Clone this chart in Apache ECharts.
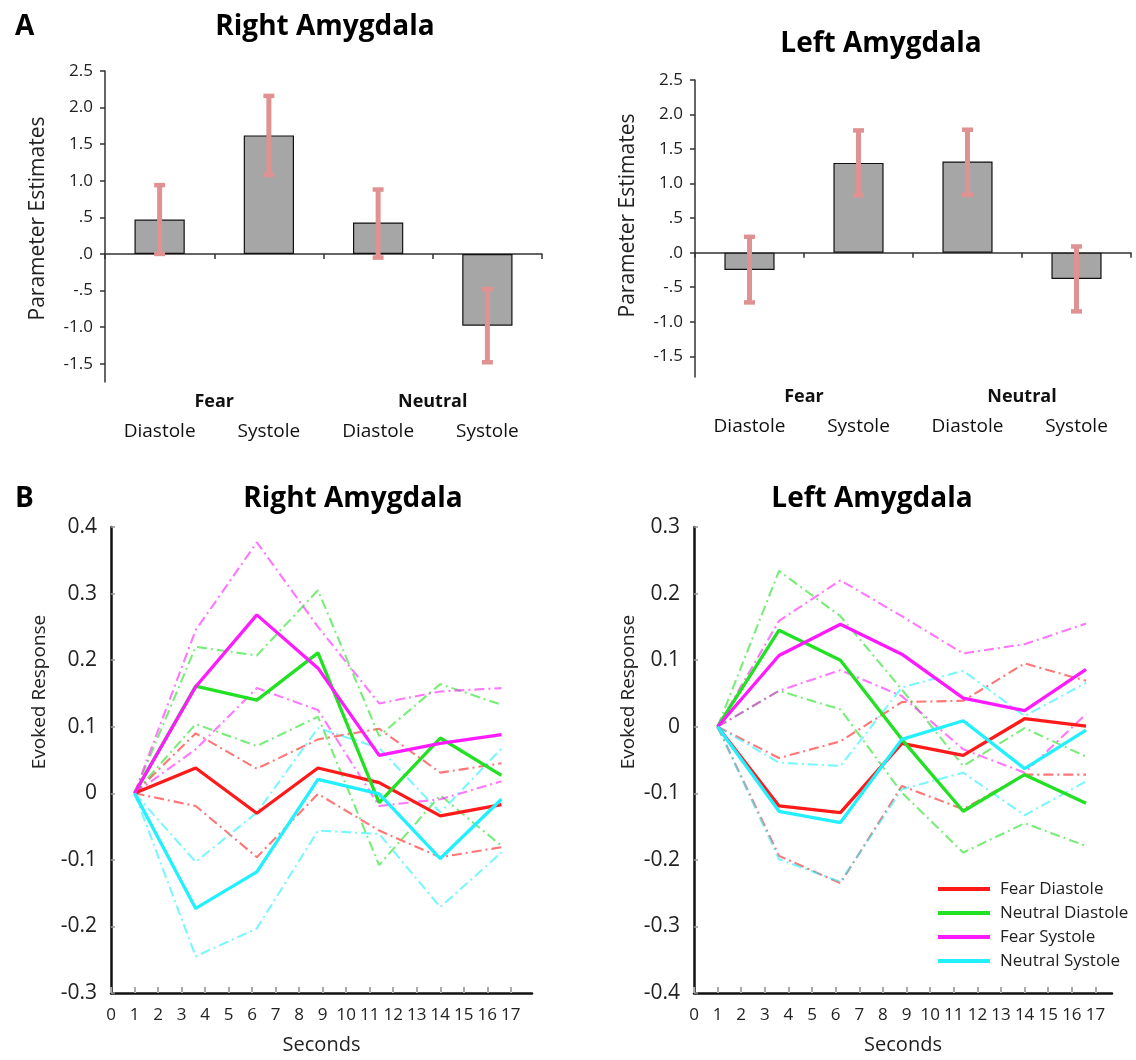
<!DOCTYPE html>
<html>
<head>
<meta charset="utf-8">
<script src="https://cdn.jsdelivr.net/npm/echarts@6/dist/echarts.min.js"></script>
<style>
html,body{margin:0;padding:0;background:#fff;}
#chart{width:1136px;height:1060px;}
</style>
</head>
<body>
<div id="chart"></div>
<script>
// ---------- Panel A data ----------
const phaseCats = ['Diastole', 'Systole', 'Diastole', 'Systole'];
const groupCats = ['Fear', 'Neutral'];
const rightAmyBars = [0.47, 1.62, 0.43, -0.98];
const rightAmyErrLow = [0.00, 1.08, -0.05, -1.48];
const rightAmyErrHigh = [0.94, 2.16, 0.88, -0.48];
const leftAmyBars = [-0.25, 1.30, 1.32, -0.38];
const leftAmyErrLow = [-0.72, 0.83, 0.84, -0.85];
const leftAmyErrHigh = [0.23, 1.77, 1.78, 0.09];

// ---------- Panel B data ----------
const seconds = [1, 3.6, 6.2, 8.8, 11.4, 14.0, 16.6];
const legendNames = ['Fear Diastole', 'Neutral Diastole', 'Fear Systole', 'Neutral Systole'];
// Right amygdala time courses
const rFearDia = [0, 0.038, -0.030, 0.038, 0.016, -0.034, -0.017];
const rFearDiaUp = [0, 0.090, 0.037, 0.081, 0.097, 0.031, 0.045];
const rFearDiaLo = [0, -0.019, -0.096, -0.001, -0.056, -0.096, -0.081];
const rNeuDia = [0, 0.161, 0.140, 0.211, -0.014, 0.083, 0.027];
const rNeuDiaUp = [0, 0.220, 0.207, 0.305, 0.086, 0.164, 0.133];
const rNeuDiaLo = [0, 0.104, 0.071, 0.115, -0.108, -0.003, -0.079];
const rFearSys = [0, 0.160, 0.268, 0.188, 0.057, 0.075, 0.088];
const rFearSysUp = [0, 0.245, 0.377, 0.250, 0.135, 0.153, 0.158];
const rFearSysLo = [0, 0.066, 0.158, 0.125, -0.019, -0.009, 0.018];
const rNeuSys = [0, -0.173, -0.118, 0.021, -0.001, -0.098, -0.009];
const rNeuSysUp = [0, -0.103, -0.029, 0.098, 0.068, -0.029, 0.067];
const rNeuSysLo = [0, -0.245, -0.203, -0.056, -0.061, -0.171, -0.089];
// Left amygdala time courses
const lFearDia = [0, -0.119, -0.129, -0.025, -0.043, 0.012, 0.001];
const lFearDiaUp = [0, -0.047, -0.022, 0.037, 0.039, 0.095, 0.069];
const lFearDiaLo = [0, -0.194, -0.235, -0.089, -0.124, -0.072, -0.072];
const lNeuDia = [0, 0.145, 0.100, -0.019, -0.127, -0.072, -0.115];
const lNeuDiaUp = [0, 0.234, 0.166, 0.056, -0.059, -0.002, -0.045];
const lNeuDiaLo = [0, 0.054, 0.026, -0.099, -0.189, -0.145, -0.179];
const lFearSys = [0, 0.107, 0.154, 0.109, 0.043, 0.024, 0.086];
const lFearSysUp = [0, 0.159, 0.220, 0.166, 0.110, 0.124, 0.155];
const lFearSysLo = [0, 0.054, 0.085, 0.046, -0.034, -0.069, 0.019];
const lNeuSys = [0, -0.127, -0.144, -0.019, 0.009, -0.063, -0.005];
const lNeuSysUp = [0, -0.054, -0.059, 0.059, 0.084, 0.016, 0.066];
const lNeuSysLo = [0, -0.199, -0.233, -0.094, -0.069, -0.133, -0.082];

const FONT = 'Open Sans';
const colors = {fearDia: '#ff1a1a', neuDia: '#22e022', fearSys: '#ff1aff', neuSys: '#22f0ff'};
const errColor = '#e09292';

function fmtA(v) {
  if (Math.abs(v * 2 - Math.round(v * 2)) > 1e-6) return '';
  let s = (Math.round(v * 10) / 10).toFixed(1);
  return s.replace(/^0\./, '.').replace(/^-0\./, '-.');
}
function fmtB(v) {
  const r = Math.round(v * 10) / 10;
  return r === 0 ? '0' : r.toFixed(1);
}

function barAxes(gridIndex) {
  return [
    { // main axis at zero
      type: 'category', gridIndex, data: phaseCats, position: 'bottom',
      axisLine: {onZero: true, lineStyle: {color: '#333', width: 1.5}},
      axisTick: {show: true, length: 5, lineStyle: {color: '#333', width: 1.5}},
      axisLabel: {show: false}
    },
    { // phase labels
      type: 'category', gridIndex, data: phaseCats, position: 'bottom',
      axisLine: {show: false, onZero: false}, axisTick: {show: false},
      axisLabel: {margin: 40, fontFamily: FONT, fontSize: 19, color: '#111'}
    },
    { // group labels
      type: 'category', gridIndex, data: groupCats, position: 'bottom',
      axisLine: {show: false, onZero: false}, axisTick: {show: false},
      axisLabel: {margin: 11, fontFamily: FONT, fontSize: 18, fontWeight: 'bold', color: '#111'}
    }
  ];
}

function barY(gridIndex, min, pad) {
  return {
    type: 'value', gridIndex, min, max: 2.5, splitNumber: 8,
    name: 'Parameter Estimates', nameLocation: 'middle', nameGap: 56,
    nameTextStyle: {fontFamily: FONT, fontSize: 21, color: '#222', padding: [0, 0, 0, pad]},
    axisLine: {show: true, onZero: false, lineStyle: {color: '#333', width: 1.5}},
    axisTick: {show: true, length: 5, lineStyle: {color: '#333', width: 1.5}},
    splitLine: {show: false},
    axisLabel: {formatter: fmtA, showMinLabel: false, margin: 12, fontFamily: FONT, fontSize: 17, color: '#222'}
  };
}

function lineX(gridIndex, max) {
  return {
    type: 'value', gridIndex, min: 0, max, interval: 1,
    name: 'Seconds', nameLocation: 'middle', nameGap: 42,
    nameTextStyle: {fontFamily: FONT, fontSize: 20, color: '#222'},
    axisLine: {onZero: false, lineStyle: {color: '#111', width: 2.5}},
    axisTick: {inside: true, length: 6, lineStyle: {color: '#aaa', width: 2}},
    splitLine: {show: false},
    axisLabel: {showMaxLabel: false, margin: 14, fontFamily: FONT, fontSize: 17, color: '#222'}
  };
}
function lineY(gridIndex, min, max, gap, pad) {
  return {
    type: 'value', gridIndex, min, max, interval: 0.1,
    name: 'Evoked Response', nameLocation: 'middle', nameGap: gap,
    nameTextStyle: {fontFamily: FONT, fontSize: 19, color: '#222', padding: [0, 0, 0, pad]},
    axisLine: {onZero: false, lineStyle: {color: '#111', width: 2.5}},
    axisTick: {inside: true, length: 4, lineStyle: {color: '#999', width: 1.5}},
    splitLine: {show: false},
    axisLabel: {formatter: fmtB, margin: 14, fontFamily: FONT, fontSize: 21, color: '#222'}
  };
}

function barSeries(xi, yi, vals) {
  return {
    type: 'bar', xAxisIndex: xi, yAxisIndex: yi, data: vals, barWidth: '46%',
    itemStyle: {color: '#a6a6a6', borderColor: '#111', borderWidth: 1.2},
    silent: true, z: 2
  };
}
function errSeries(xi, yi, lo, hi) {
  return {
    type: 'custom', xAxisIndex: xi, yAxisIndex: yi, z: 5, silent: true,
    data: lo.map((l, i) => [i, l, hi[i]]),
    renderItem: function (params, api) {
      const c = api.value(0);
      const pLo = api.coord([c, api.value(1)]);
      const pHi = api.coord([c, api.value(2)]);
      const w = 5.5;
      return {type: 'group', children: [
        {type: 'line', shape: {x1: pLo[0], y1: pLo[1], x2: pHi[0], y2: pHi[1]}, style: {stroke: errColor, lineWidth: 5}},
        {type: 'line', shape: {x1: pHi[0] - w, y1: pHi[1], x2: pHi[0] + w, y2: pHi[1]}, style: {stroke: errColor, lineWidth: 4.5}},
        {type: 'line', shape: {x1: pLo[0] - w, y1: pLo[1], x2: pLo[0] + w, y2: pLo[1]}, style: {stroke: errColor, lineWidth: 4.5}}
      ]};
    }
  };
}
function lineSeries(name, xi, yi, ys, color, solid) {
  return {
    type: 'line', name, xAxisIndex: xi, yAxisIndex: yi,
    data: seconds.map((s, i) => [s, ys[i]]),
    symbol: 'none', silent: true, clip: false,
    itemStyle: {color},
    lineStyle: solid ? {color, width: 3.3} : {color, width: 2.1, type: [10, 4, 2, 4], opacity: 0.6},
    z: solid ? 5 : 3
  };
}

const series = [
  barSeries(0, 0, rightAmyBars), errSeries(0, 0, rightAmyErrLow, rightAmyErrHigh),
  barSeries(3, 1, leftAmyBars), errSeries(3, 1, leftAmyErrLow, leftAmyErrHigh)
];
const rSets = [
  [legendNames[0], rFearDia, rFearDiaUp, rFearDiaLo, colors.fearDia],
  [legendNames[1], rNeuDia, rNeuDiaUp, rNeuDiaLo, colors.neuDia],
  [legendNames[2], rFearSys, rFearSysUp, rFearSysLo, colors.fearSys],
  [legendNames[3], rNeuSys, rNeuSysUp, rNeuSysLo, colors.neuSys]
];
const lSets = [
  [legendNames[0], lFearDia, lFearDiaUp, lFearDiaLo, colors.fearDia],
  [legendNames[1], lNeuDia, lNeuDiaUp, lNeuDiaLo, colors.neuDia],
  [legendNames[2], lFearSys, lFearSysUp, lFearSysLo, colors.fearSys],
  [legendNames[3], lNeuSys, lNeuSysUp, lNeuSysLo, colors.neuSys]
];
[[rSets, 6, 2], [lSets, 7, 3]].forEach(([sets, xi, yi]) => {
  sets.forEach(s => {
    series.push(lineSeries(s[0] + ' upper', xi, yi, s[2], s[4], false));
    series.push(lineSeries(s[0] + ' lower', xi, yi, s[3], s[4], false));
  });
  sets.forEach(s => series.push(lineSeries(s[0], xi, yi, s[1], s[4], true)));
});

const titleStyle = {fontFamily: FONT, fontSize: 28, fontWeight: 'bold', color: '#000'};
const option = {
  backgroundColor: '#fff',
  animation: false,
  title: [
    {text: 'A', left: 10, top: 8, textStyle: titleStyle},
    {text: 'Right Amygdala', left: 320, top: 8, textAlign: 'center', textStyle: titleStyle},
    {text: 'Left Amygdala', left: 876, top: 25, textAlign: 'center', textStyle: titleStyle},
    {text: 'B', left: 10, top: 480, textStyle: titleStyle},
    {text: 'Right Amygdala', left: 348, top: 480, textAlign: 'center', textStyle: titleStyle},
    {text: 'Left Amygdala', left: 867, top: 480, textAlign: 'center', textStyle: titleStyle}
  ],
  legend: {
    data: legendNames, orient: 'vertical', left: 933, top: 874,
    icon: 'rect', itemWidth: 52, itemHeight: 4, itemGap: 4,
    textStyle: {fontFamily: FONT, fontSize: 17, color: '#222', lineHeight: 20, padding: [0, 0, 0, 5]},
    selectedMode: false
  },
  grid: [
    {left: 105, top: 71, width: 437, height: 311},
    {left: 695, top: 80, width: 436, height: 297},
    {left: 111, top: 527, width: 421, height: 466},
    {left: 694, top: 527, width: 418, height: 466}
  ],
  xAxis: [].concat(barAxes(0), barAxes(1), [lineX(2, 17.9), lineX(3, 17.7)]),
  yAxis: [
    barY(0, -1.75, 16),
    barY(1, -1.8, 26),
    lineY(2, -0.3, 0.4, 62, 136),
    lineY(3, -0.4, 0.3, 56, 136)
  ],
  series
};

const chart = echarts.init(document.getElementById('chart'), null, {renderer: 'canvas'});
chart.setOption(option);
</script>
</body>
</html>
